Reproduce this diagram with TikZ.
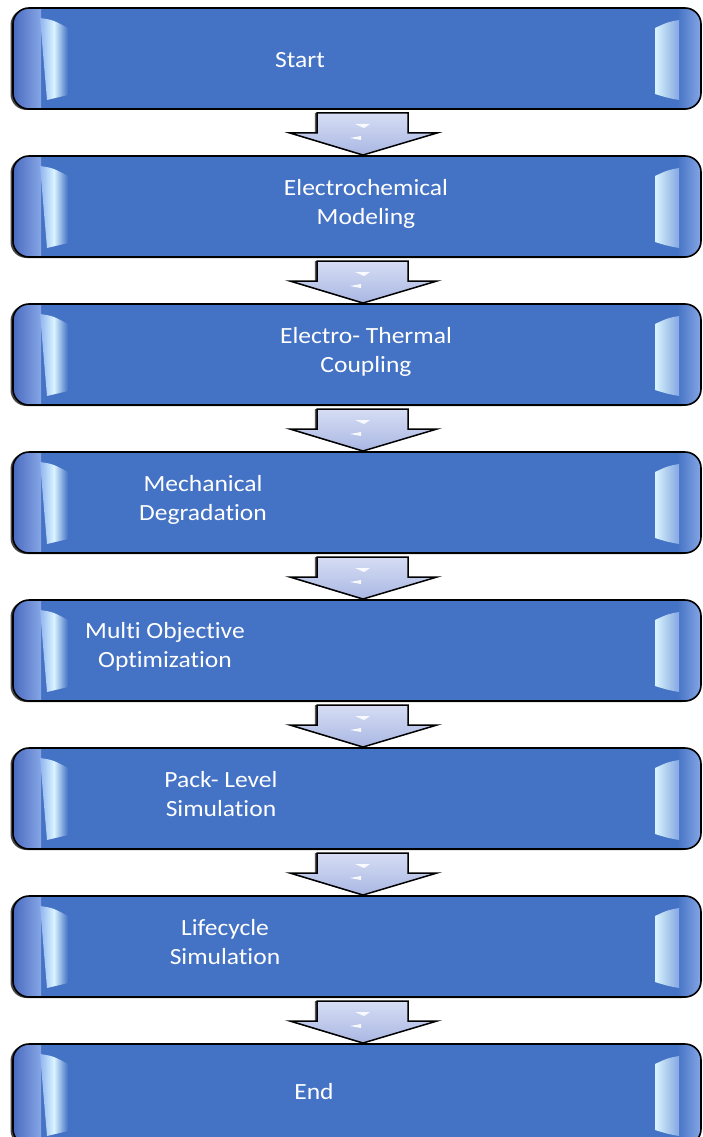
\documentclass[tikz,border=0pt]{standalone}
\usepackage{fontspec}
\setmainfont{Carlito}[FakeStretch=1.1, Ligatures={NoCommon}]
\usetikzlibrary{calc}
\definecolor{boxblue}{HTML}{4472C4}
\definecolor{edgeblue}{HTML}{4A6AC0}
\definecolor{edgelight}{HTML}{86A6E6}
\definecolor{bandleft}{HTML}{8FB4F0}
\definecolor{bandhi}{HTML}{DAF4FF}
\definecolor{arrowtop}{HTML}{D6DDF4}
\definecolor{arrowbot}{HTML}{A9B7E2}
\tikzset{
  flowbox/.style={rectangle, rounded corners=16pt, minimum width=688pt, minimum height=101pt,
    inner sep=0pt, outer sep=0pt, fill=boxblue},
  boxedge/.style={draw=black, line width=1.6pt, rounded corners=16pt},
  boxshadow/.style={fill=black!72, rounded corners=16pt},
  arrowshade/.style={top color=arrowtop, bottom color=arrowbot, draw=black, line width=1.5pt, line join=miter},
  arrowshadow/.style={fill=black!65},
  gloss/.style={fill=white, opacity=0.9},
  flowlabel/.style={text=white, font=\fontsize{23.2}{29.5}\selectfont, align=center, inner sep=0pt}
}
\newcommand\flowstep[2]{%
  \fill[boxshadow] (357-346.5,#2-49.5) rectangle (357+341.5,#2+51.5);
  \node[flowbox] (#1) at (357,#2) {};
  \begin{scope}[shift={(#1.north west)}]
    \clip[rounded corners=15pt] (0.8,0.8) rectangle (687.2,100.2);
    \shade[left color=edgeblue, right color=edgelight] (0,0) rectangle (28,101);
    \shade[left color=bandleft, right color=boxblue, middle color=bandhi]
      (27,10) .. controls (40,12) .. (55,20) -- (55,87) .. controls (45,90) .. (34,92) -- cycle;
    \shade[left color=boxblue, right color=edgelight] (664,0) rectangle (688,101);
    \shade[left color=bandhi, right color=edgelight, middle color=bandhi!70!boxblue]
      (642,20) .. controls (655,14) .. (666,12) -- (666,92) .. controls (655,90) .. (642,86) -- cycle;
  \end{scope}
  \draw[boxedge] (#1.north west) rectangle (#1.south east);
}
\newcommand\arrowpath[3]{($(#1.south)+(#3-40,4)$) -- ($(#1.south)+(#3+51,4)$) -- ($(#1.south)+(#3+51,24)$)
  -- ($(#1.south)+(#3+80,24)$) -- ($(#2.north)+(#3+6,-1)$) -- ($(#1.south)+(#3-67,24)$)
  -- ($(#1.south)+(#3-40,24)$) -- cycle}
\newcommand\flowarrow[2]{%
  \fill[arrowshadow] \arrowpath{#1}{#2}{-2.2};
  \path[arrowshade] \arrowpath{#1}{#2}{0};
  \fill[gloss] ($(#1.south)+(-2,15)$) -- ($(#1.south)+(13,15)$) -- ($(#1.south)+(7,19)$) -- cycle;
  \fill[gloss] ($(#1.south)+(-7,29)$) -- ($(#1.south)+(4,27)$) -- ($(#1.south)+(4,31)$) -- cycle;
}
\begin{document}
\begin{tikzpicture}[x=1pt,y=-1pt]
\useasboundingbox (0,0) rectangle (702,1137);
\flowstep{b1}{58.5}
\flowstep{b2}{206.5}
\flowstep{b3}{354.5}
\flowstep{b4}{502.5}
\flowstep{b5}{650.5}
\flowstep{b6}{798.5}
\flowstep{b7}{946.5}
\flowstep{b8}{1094.5}
\flowarrow{b1}{b2}
\flowarrow{b2}{b3}
\flowarrow{b3}{b4}
\flowarrow{b4}{b5}
\flowarrow{b5}{b6}
\flowarrow{b6}{b7}
\flowarrow{b7}{b8}
\node[flowlabel] (t1) at (300,60) {Start};
\node[flowlabel] (t2) at (366,204) {Electrochemical\\Modeling};
\node[flowlabel] (t3) at (366,352) {Electro- Thermal\\Coupling};
\node[flowlabel] (t4) at (203,500) {Mechanical\\Degradation};
\node[flowlabel] (t5) at (165,647) {Multi Objective\\Optimization};
\node[flowlabel] (t6) at (221,794) {Pack- Level\\Simulation};
\node[flowlabel] (t7) at (225,942) {Lifecycle\\Simulation};
\node[flowlabel] (t8) at (314,1092) {End};
\end{tikzpicture}
\end{document}
